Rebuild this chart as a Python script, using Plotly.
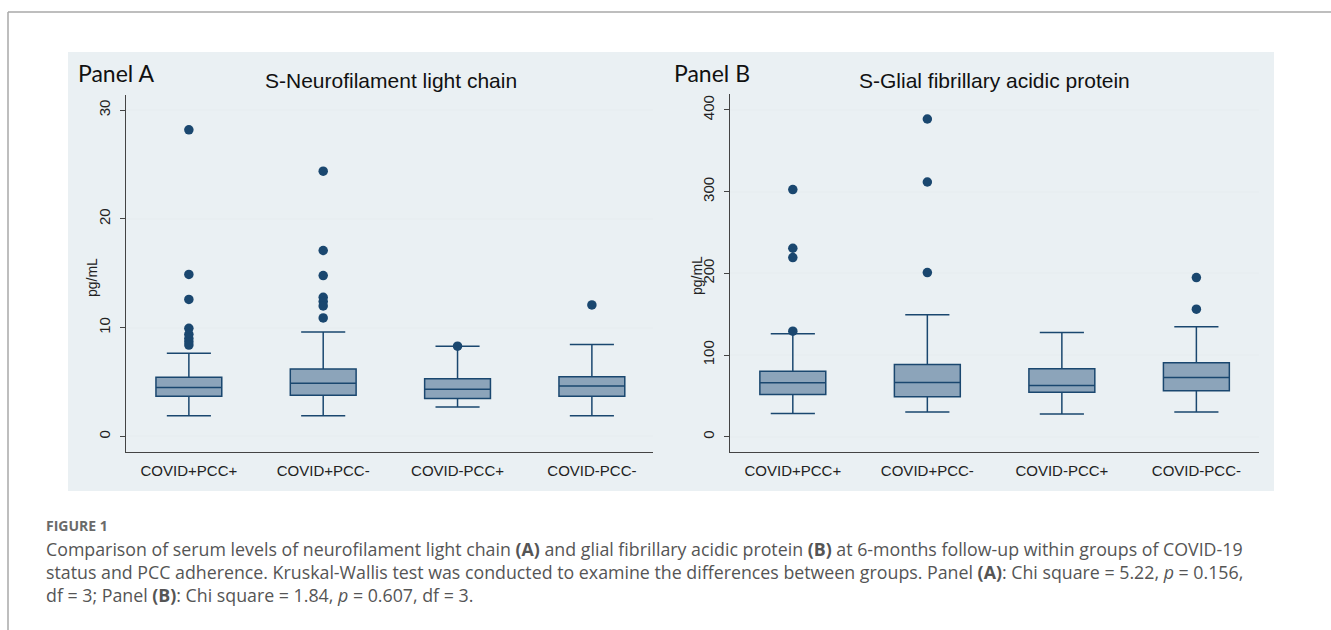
import plotly.graph_objects as go

W, H = 1331, 630

groups = ["COVID+PCC+", "COVID+PCC-", "COVID-PCC+", "COVID-PCC-"]

# Panel A: S-Neurofilament light chain (pg/mL)
nfl_lower = [1.9, 1.9, 2.7, 1.9]
nfl_q1 = [3.7, 3.8, 3.5, 3.7]
nfl_median = [4.5, 4.9, 4.35, 4.65]
nfl_q3 = [5.45, 6.2, 5.3, 5.5]
nfl_upper = [7.65, 9.6, 8.3, 8.45]
nfl_out_group = ["COVID+PCC+"] * 8 + ["COVID+PCC-"] * 7 + ["COVID-PCC+"] + ["COVID-PCC-"]
nfl_out_value = [28.2, 14.9, 12.6, 9.95, 9.4, 9.0, 8.7, 8.4,
                 24.4, 17.1, 14.8, 12.8, 12.4, 12.0, 10.9,
                 8.3,
                 12.1]

# Panel B: S-Glial fibrillary acidic protein (pg/mL)
gfap_lower = [28.5, 30.2, 27.7, 30.2]
gfap_q1 = [51.8, 48.9, 54.6, 56.3]
gfap_median = [66.0, 66.4, 62.8, 72.6]
gfap_q3 = [80.3, 88.5, 83.2, 90.5]
gfap_upper = [126.0, 149.2, 127.6, 134.5]
gfap_out_group = ["COVID+PCC+"] * 4 + ["COVID+PCC-"] * 3 + ["COVID-PCC-"] * 2
gfap_out_value = [302.5, 230.7, 219.3, 129.2,
                  388.9, 311.8, 201.0,
                  194.8, 156.1]

NAVY = "#1a476f"
FILL = "#8ca4ba"
BG = "#eaf0f3"
GRID = "#e8eef1"


def px_x(p):
    return p / W


def px_y(p):
    return 1 - p / H


fig = go.Figure()

for xa, ya, lo, q1, md, q3, up, og, ov in [
    ("x", "y", nfl_lower, nfl_q1, nfl_median, nfl_q3, nfl_upper, nfl_out_group, nfl_out_value),
    ("x2", "y2", gfap_lower, gfap_q1, gfap_median, gfap_q3, gfap_upper, gfap_out_group, gfap_out_value),
]:
    fig.add_trace(go.Box(
        x=groups, q1=q1, median=md, q3=q3, lowerfence=lo, upperfence=up,
        boxpoints=False, fillcolor=FILL, line=dict(color=NAVY, width=1.5),
        whiskerwidth=0.67, xaxis=xa, yaxis=ya, showlegend=False, hoverinfo="skip",
    ))
    fig.add_trace(go.Scatter(
        x=og, y=ov, mode="markers", marker=dict(color=NAVY, size=9.5),
        xaxis=xa, yaxis=ya, showlegend=False, hoverinfo="skip",
    ))

tickfont = dict(family="Liberation Sans, Arial", size=15, color="#222")
common_y = dict(showline=True, linecolor="#444", linewidth=1.2, ticks="outside", ticklen=5,
                tickcolor="#444", tickangle=-90, tickfont=tickfont, showgrid=True,
                gridcolor=GRID, gridwidth=1.5, zeroline=False, ticklabelstandoff=4)
common_x = dict(showline=True, linecolor="#444", linewidth=1.2, ticks="", tickfont=tickfont,
                showgrid=False, zeroline=False, type="category", ticklabelstandoff=5)

fig.update_layout(
    width=W, height=H, margin=dict(l=0, r=0, t=0, b=0),
    paper_bgcolor="white", plot_bgcolor="white", boxgap=0.51, boxgroupgap=0,
    xaxis=dict(domain=[px_x(126.4), px_x(653)], range=[-0.465, 3.455], anchor="y", **common_x),
    yaxis=dict(domain=[px_y(451.7), px_y(95)], range=[-1.4, 31.4], tickvals=[0, 10, 20, 30],
               anchor="x", **common_y),
    xaxis2=dict(domain=[px_x(730.4), px_x(1258.8)], range=[-0.464, 3.464], anchor="y2", **common_x),
    yaxis2=dict(domain=[px_y(451.7), px_y(94)], range=[-18.3, 419.5], tickvals=[0, 100, 200, 300, 400],
                anchor="x2", **common_y),
)

shapes = [
    dict(type="rect", xref="paper", yref="paper", x0=px_x(68), x1=px_x(1274), y0=px_y(491), y1=px_y(52),
         fillcolor=BG, line=dict(width=0), layer="below"),
    dict(type="line", xref="paper", yref="paper", x0=px_x(8), x1=1, y0=px_y(12), y1=px_y(12),
         line=dict(color="#a8a8a8", width=1.5)),
    dict(type="line", xref="paper", yref="paper", x0=px_x(8), x1=px_x(8), y0=px_y(12), y1=0,
         line=dict(color="#a8a8a8", width=1.5)),
]
fig.update_layout(shapes=shapes)

panel_font = dict(family="Lato, Noto Sans", size=23, color="#111")
title_font = dict(family="Liberation Sans, Arial", size=21, color="#111")
ytitle_font = dict(family="Liberation Sans, Arial", size=14, color="#222")
ann = [
    dict(text="Panel A", x=px_x(76), y=px_y(73), xanchor="left", yanchor="middle", font=panel_font),
    dict(text="S-Neurofilament light chain", x=px_x(391), y=px_y(80), xanchor="center", yanchor="middle",
         font=title_font),
    dict(text="Panel B", x=px_x(672), y=px_y(73), xanchor="left", yanchor="middle", font=panel_font),
    dict(text="S-Glial fibrillary acidic protein", x=px_x(994), y=px_y(80), xanchor="center",
         yanchor="middle", font=title_font),
    dict(text="pg/mL", x=px_x(92), y=px_y(278), xanchor="center", yanchor="middle", textangle=-90,
         font=ytitle_font),
    dict(text="pg/mL", x=px_x(697), y=px_y(276), xanchor="center", yanchor="middle", textangle=-90,
         font=ytitle_font),
    dict(text="<b>FIGURE 1</b>", x=px_x(44), y=px_y(525), xanchor="left", yanchor="middle",
         font=dict(family="Open Sans, Lato", size=14, color="#6a6a6a")),
]
caption_lines = [
    "Comparison of serum levels of neurofilament light chain <b>(A)</b> and glial fibrillary acidic protein <b>(B)</b> at 6-months follow-up within groups of COVID-19",
    "status and PCC adherence. Kruskal-Wallis test was conducted to examine the differences between groups. Panel <b>(A)</b>: Chi square = 5.22, <i>p</i> = 0.156,",
    "df = 3; Panel <b>(B)</b>: Chi square = 1.84, <i>p</i> = 0.607, df = 3.",
]
for i, line in enumerate(caption_lines):
    ann.append(dict(text=line, x=px_x(44), y=px_y(549 + 23 * i), xanchor="left", yanchor="middle",
                    font=dict(family="Open Sans, Lato", size=17.8, color="#555")))
for a in ann:
    a.update(xref="paper", yref="paper", showarrow=False)
fig.update_layout(annotations=ann)

fig.write_html("out.html", config={"displayModeBar": False},
               post_script="document.body.style.margin='0';document.body.style.overflow='hidden';")
